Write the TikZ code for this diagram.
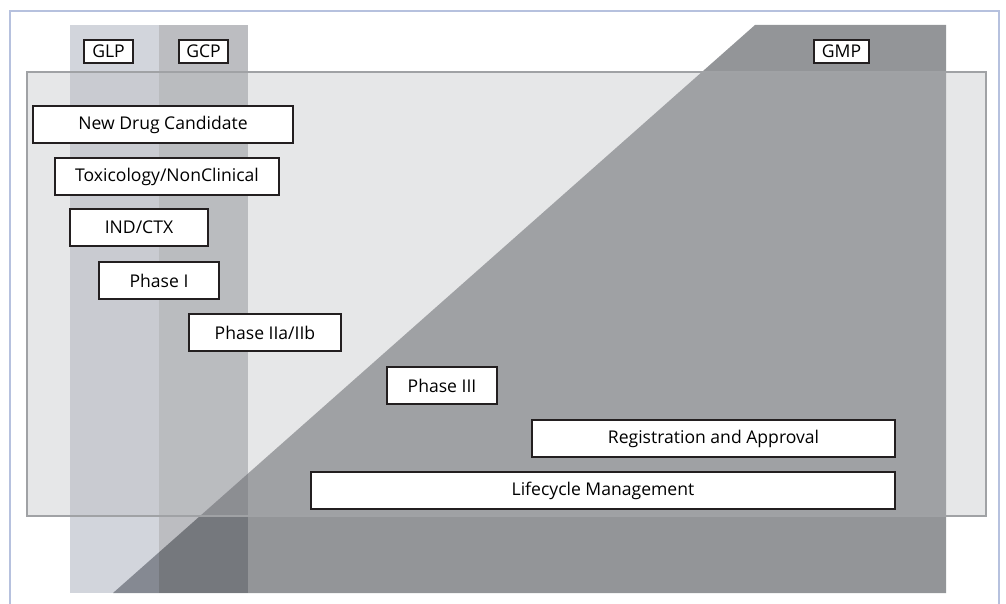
\documentclass[tikz,border=0pt]{standalone}
\usepackage{fontspec}
\setmainfont{Open Sans}
\usetikzlibrary{positioning}
\definecolor{framecol}{RGB}{182,193,222}
\definecolor{glpcol}{RGB}{100,110,134}
\definecolor{gcpcol}{RGB}{63,66,77}
\definecolor{gmpcol}{RGB}{147,149,152}
\definecolor{panelcol}{RGB}{184,185,188}
\definecolor{panelline}{RGB}{160,162,165}
\definecolor{inkcol}{RGB}{35,31,32}
\tikzset{
  stage/.style={draw=inkcol, line width=0.8pt, fill=white, inner sep=0pt, minimum height=0.74cm, font=\fontsize{10}{12}\selectfont},
  gxp/.style={stage, minimum height=0.46cm}
}

\begin{document}
\begin{tikzpicture}[x=0.02cm, y=-0.02cm]
		%%%%% START %%%%%
		\useasboundingbox (0, 0) rectangle (1006, 604);
		
		\draw[line width=1.2pt, color=framecol] (10, 604) -- (10, 11) -- (999, 11) -- (999, 604);
		
		\fill[gmpcol] (113, 593) -- (755, 25) -- (946, 25) -- (946, 593) -- cycle;
		\fill[glpcol, opacity=0.29] (70, 25) rectangle (159, 593);
		\fill[gcpcol, opacity=0.35] (159, 25) rectangle (248, 593);
		
		\fill[panelcol, opacity=0.35] (27, 72) rectangle (986, 516);
		\draw[line width=0.6pt, color=panelline] (27, 72) rectangle (986, 516);
		
		\node[gxp, minimum width=0.98cm] (glp) at (108.5, 51.5) {GLP};
		\node[gxp, minimum width=0.98cm] (gcp) at (203.5, 51.5) {GCP};
		\node[gxp, minimum width=1.1cm] (gmp) at (841.5, 51.5) {GMP};
		
		\node[stage, minimum width=5.2cm] (candidate) at (163, 124.5) {New Drug Candidate};
		\node[stage, minimum width=4.48cm] (toxicology) at (167, 176.5) {Toxicology/NonClinical};
		\node[stage, minimum width=2.76cm] (ind) at (139, 227.5) {IND/CTX};
		\node[stage, minimum width=2.4cm] (phaseI) at (159, 280.5) {Phase I};
		\node[stage, minimum width=3.04cm] (phaseII) at (265, 332.5) {Phase IIa/IIb};
		\node[stage, minimum width=2.2cm] (phaseIII) at (442, 385.5) {Phase III};
		\node[stage, minimum width=7.26cm] (approval) at (713.5, 438.5) {Registration and Approval};
		\node[stage, minimum width=11.68cm] (lifecycle) at (603, 490.5) {Lifecycle Management};
		
		%%%%% END %%%%%
\end{tikzpicture}
\end{document}
